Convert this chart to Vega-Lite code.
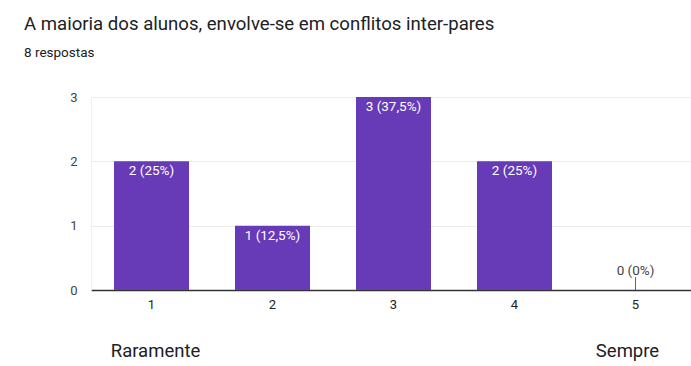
{
  "$schema": "https://vega.github.io/schema/vega-lite/v6.json",
  "width": 605,
  "height": 193,
  "autosize": "none",
  "padding": {"left": 91, "top": 97, "right": 0, "bottom": 76},
  "background": "white",
  "config": {"view": {"stroke": null}, "font": "Roboto"},
  "title": {
    "text": "A maioria dos alunos, envolve-se em conflitos inter-pares",
    "subtitle": "8 respostas",
    "anchor": "start",
    "frame": "group",
    "dx": -67,
    "font": "Roboto",
    "fontSize": 18.6,
    "fontWeight": "normal",
    "color": "#202124",
    "subtitleFont": "Roboto",
    "subtitleFontSize": 13.5,
    "subtitleColor": "#202124",
    "subtitlePadding": 12,
    "offset": 32
  },
  "data": {
    "values": [
      {"opcao": "1", "contagem": 2, "rotulo": "2 (25%)"},
      {"opcao": "2", "contagem": 1, "rotulo": "1 (12,5%)"},
      {"opcao": "3", "contagem": 3, "rotulo": "3 (37,5%)"},
      {"opcao": "4", "contagem": 2, "rotulo": "2 (25%)"},
      {"opcao": "5", "contagem": 0, "rotulo": "0 (0%)"}
    ]
  },
  "encoding": {
    "x": {
      "field": "opcao",
      "type": "ordinal",
      "scale": {"paddingInner": 0.38, "paddingOuter": 0.19},
      "axis": {
        "title": null,
        "labelAngle": 0,
        "ticks": false,
        "labelPadding": 8,
        "labelFont": "Roboto",
        "labelFontSize": 13,
        "labelColor": "#222222",
        "domainColor": "#333333",
        "domainWidth": 1.5
      }
    }
  },
  "layer": [
    {
      "mark": {"type": "bar", "color": "#673ab7"},
      "encoding": {
        "y": {
          "field": "contagem",
          "type": "quantitative",
          "scale": {"domain": [0, 3], "nice": false},
          "axis": {
            "title": null,
            "values": [0, 0.5, 1, 1.5, 2, 2.5, 3],
            "format": "d",
            "labelExpr": "datum.value % 1 === 0 ? datum.label : ''",
            "ticks": false,
            "labelPadding": 14,
            "labelFont": "Roboto",
            "labelFontSize": 13,
            "labelColor": "#444444",
            "gridColor": "#ebebeb",
            "domainColor": "#f0f0f0"
          }
        }
      }
    },
    {
      "transform": [{"filter": "datum.contagem > 0"}],
      "mark": {"type": "text", "color": "white", "baseline": "middle", "dy": 10, "fontSize": 13.5, "font": "Roboto"},
      "encoding": {
        "y": {"field": "contagem", "type": "quantitative"},
        "text": {"field": "rotulo"}
      }
    },
    {
      "transform": [{"filter": "datum.contagem == 0"}],
      "mark": {"type": "rule", "color": "#666666", "strokeWidth": 1, "y2Offset": -13},
      "encoding": {
        "y": {"field": "contagem", "type": "quantitative"},
        "y2": {"field": "contagem"}
      }
    },
    {
      "transform": [{"filter": "datum.contagem == 0"}],
      "mark": {"type": "text", "color": "#444444", "baseline": "middle", "dy": -19, "fontSize": 13.5, "font": "Roboto"},
      "encoding": {
        "y": {"field": "contagem", "type": "quantitative"},
        "text": {"field": "rotulo"}
      }
    },
    {
      "data": {"values": [{"opcao": "1", "extremo": "Raramente"}]},
      "mark": {"type": "text", "color": "#202124", "baseline": "alphabetic", "dy": 67, "dx": 4, "fontSize": 18.5, "font": "Roboto"},
      "encoding": {
        "y": {"datum": 0, "type": "quantitative"},
        "text": {"field": "extremo"}
      }
    },
    {
      "data": {"values": [{"opcao": "5", "extremo": "Sempre"}]},
      "mark": {"type": "text", "color": "#202124", "baseline": "alphabetic", "dy": 67, "dx": -8, "fontSize": 18.5, "font": "Roboto"},
      "encoding": {
        "y": {"datum": 0, "type": "quantitative"},
        "text": {"field": "extremo"}
      }
    }
  ]
}
